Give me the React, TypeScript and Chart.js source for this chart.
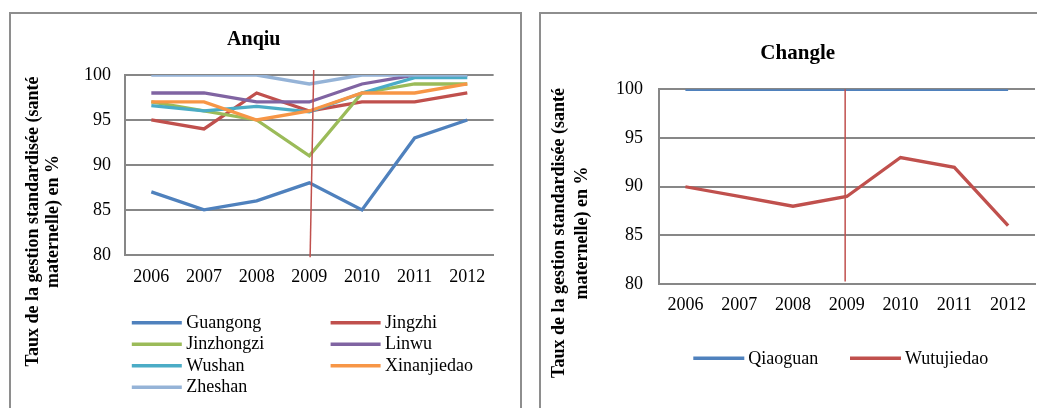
import React, { useEffect, useRef } from 'react';
import { Chart, registerables } from 'chart.js';

Chart.register(...registerables);

// ---------- data ----------
const years = ['2006', '2007', '2008', '2009', '2010', '2011', '2012'];
const markerYear = '2009';
const yMin = 80;
const yMax = 100;
const yStep = 5;

const anqiuTitle = 'Anqiu';
const anqiuNames = ['Guangong', 'Jingzhi', 'Jinzhongzi', 'Linwu', 'Wushan', 'Xinanjiedao', 'Zheshan'];
const guangong = [87, 85, 86, 88, 85, 93, 95];
const jingzhi = [95, 94, 98, 96, 97, 97, 98];
const jinzhongzi = [97, 96, 95, 91, 98, 99, 99];
const linwu = [98, 98, 97, 97, 99, 100, 100];
const wushan = [96.6, 96, 96.5, 95.9, 98, 99.7, 99.7];
const xinanjiedao = [97, 97, 95, 96, 98, 98, 99];
const zheshan = [100, 100, 100, 99, 100, 100, 100];
const anqiuValues = [guangong, jingzhi, jinzhongzi, linwu, wushan, xinanjiedao, zheshan];
const anqiuColors = ['#4F81BD', '#C0504D', '#9BBB59', '#8064A2', '#4BACC6', '#F79646', '#95B3D7'];

const changleTitle = 'Changle';
const changleNames = ['Qiaoguan', 'Wutujiedao'];
const qiaoguan = [100, 100, 100, 100, 100, 100, 100];
const wutujiedao = [90, 89, 88, 89, 93, 92, 86];
const changleValues = [qiaoguan, wutujiedao];
const changleColors = ['#4F81BD', '#C0504D'];

const yAxisTitle = ['Taux de la gestion standardisée (santé', 'maternelle) en %'];

// ---------- style ----------
const FONT = "'Liberation Serif', 'Times New Roman', serif";
const GRID = '#878787';
const MARKER = '#C0504D';

type Layout = {
  width: number;
  height: number;
  padTop: number;
  padBottom: number;
  padRight: number;
  yScaleWidth: number;
  yTickPad: number;
  xTickPad: number;
  titleX: number;
  titleY: number;
  titleSize: number;
  yTitleX: [number, number];
  yTitleY: number;
  legendCols: number[];
  legendRows: number[];
  legendPerRow: number;
  legendLine: number;
  legendGap: number;
  markerTop: [number, number];
  markerBottom: [number, number];
};

function makeOverlay(title: string, names: string[], colors: string[], L: Layout) {
  return {
    id: 'overlay',
    afterDatasetsDraw(chart: any) {
      const ctx = chart.ctx;
      const xs = chart.scales.x;
      const area = chart.chartArea;
      const x = xs.getPixelForValue(years.indexOf(markerYear));
      ctx.save();
      ctx.strokeStyle = MARKER;
      ctx.lineWidth = 1.5;
      ctx.beginPath();
      ctx.moveTo(x + L.markerTop[0], area.top + L.markerTop[1]);
      ctx.lineTo(x + L.markerBottom[0], area.bottom + L.markerBottom[1]);
      ctx.stroke();
      ctx.restore();
    },
    afterDraw(chart: any) {
      const ctx = chart.ctx;
      ctx.save();
      ctx.fillStyle = '#000';
      ctx.textAlign = 'center';
      ctx.textBaseline = 'middle';
      ctx.font = `bold ${L.titleSize}px ${FONT}`;
      ctx.fillText(title, L.titleX, L.titleY);
      ctx.font = `bold 18px ${FONT}`;
      yAxisTitle.forEach((line, i) => {
        ctx.save();
        ctx.translate(L.yTitleX[i], L.yTitleY);
        ctx.rotate(-Math.PI / 2);
        ctx.fillText(line, 0, 0);
        ctx.restore();
      });
      ctx.font = `18px ${FONT}`;
      ctx.textAlign = 'left';
      names.forEach((name, i) => {
        const col = i % L.legendPerRow;
        const row = Math.floor(i / L.legendPerRow);
        const lx = L.legendCols[col];
        const ly = L.legendRows[row];
        ctx.strokeStyle = colors[i];
        ctx.lineWidth = 3.5;
        ctx.lineCap = 'butt';
        ctx.beginPath();
        ctx.moveTo(lx, ly);
        ctx.lineTo(lx + L.legendLine, ly);
        ctx.stroke();
        ctx.fillStyle = '#000';
        ctx.fillText(name, lx + L.legendLine + L.legendGap, ly + 0.5);
      });
      ctx.restore();
    },
  };
}

function LineChart(props: {
  title: string;
  names: string[];
  values: number[][];
  colors: string[];
  L: Layout;
  left: number;
  top: number;
}) {
  const ref = useRef<HTMLCanvasElement | null>(null);
  const { title, names, values, colors, L } = props;
  useEffect(() => {
    if (!ref.current) return;
    const n = names.length;
    const chart = new Chart(ref.current, {
      type: 'line',
      data: {
        labels: years,
        datasets: names.map((name, i) => ({
          label: name,
          data: values[i],
          borderColor: colors[i],
          backgroundColor: colors[i],
          borderWidth: 3.3,
          pointRadius: 0,
          tension: 0,
          fill: false,
          order: n - i,
        })),
      },
      options: {
        responsive: false,
        animation: false,
        devicePixelRatio: 1,
        layout: { padding: { left: 0, right: L.padRight, top: L.padTop, bottom: L.padBottom } },
        plugins: {
          legend: { display: false },
          tooltip: { enabled: false },
          title: { display: false },
        },
        scales: {
          x: {
            offset: true,
            grid: { display: false, drawTicks: false },
            border: { display: true, color: GRID, width: 2 },
            ticks: {
              color: '#000',
              font: { family: FONT, size: 18, lineHeight: 1.2 },
              padding: L.xTickPad,
              maxRotation: 0,
              autoSkip: false,
            },
          },
          y: {
            min: yMin,
            max: yMax,
            afterFit: (scale: any) => {
              scale.width = L.yScaleWidth;
            },
            grid: { color: GRID, lineWidth: 2, drawTicks: false },
            border: { display: true, color: GRID, width: 2 },
            ticks: {
              stepSize: yStep,
              color: '#000',
              font: { family: FONT, size: 18, lineHeight: 1.2 },
              padding: L.yTickPad,
            },
          },
        },
      } as any,
      plugins: [makeOverlay(title, names, colors, L)],
    });
    return () => chart.destroy();
  }, []);
  return (
    <canvas
      ref={ref}
      width={L.width}
      height={L.height}
      style={{ position: 'absolute', left: props.left, top: props.top, width: L.width, height: L.height }}
    />
  );
}

const leftLayout: Layout = {
  width: 486,
  height: 394,
  padTop: 61,
  padBottom: 108.2,
  padRight: 0,
  yScaleWidth: 114,
  yTickPad: 14,
  xTickPad: 11.7,
  titleX: 242.8,
  titleY: 25.5,
  titleSize: 20,
  yTitleX: [22.8, 42],
  yTitleY: 207.5,
  legendCols: [120.8, 319.6],
  legendRows: [308.7, 330.2, 351.7, 373.2],
  legendPerRow: 2,
  legendLine: 50,
  legendGap: 4.5,
  markerTop: [4.4, -5],
  markerBottom: [0.8, 2.5],
};

const rightLayout: Layout = {
  width: 496,
  height: 394,
  padTop: 75.3,
  padBottom: 81.2,
  padRight: 2,
  yScaleWidth: 117.5,
  yTickPad: 15.5,
  xTickPad: 10.5,
  titleX: 256.7,
  titleY: 39.8,
  titleSize: 21,
  yTitleX: [18.8, 41.2],
  yTitleY: 219,
  legendCols: [152.3, 309],
  legendRows: [344.3],
  legendPerRow: 2,
  legendLine: 51,
  legendGap: 4,
  markerTop: [-1.6, 0],
  markerBottom: [-1.6, -2.7],
};

export default function App() {
  const box = {
    position: 'absolute' as const,
    top: 12,
    height: 430,
    border: '2px solid #8e8e8e',
    boxSizing: 'border-box' as const,
  };
  return (
    <div
      style={{
        position: 'absolute',
        left: 0,
        top: 0,
        width: 1037,
        height: 408,
        overflow: 'hidden',
        background: '#fff',
      }}
    >
      <div style={{ ...box, left: 9, width: 513 }} />
      <div style={{ ...box, left: 539, width: 560 }} />
      <LineChart
        title={anqiuTitle}
        names={anqiuNames}
        values={anqiuValues}
        colors={anqiuColors}
        L={leftLayout}
        left={11}
        top={14}
      />
      <LineChart
        title={changleTitle}
        names={changleNames}
        values={changleValues}
        colors={changleColors}
        L={rightLayout}
        left={541}
        top={14}
      />
    </div>
  );
}
